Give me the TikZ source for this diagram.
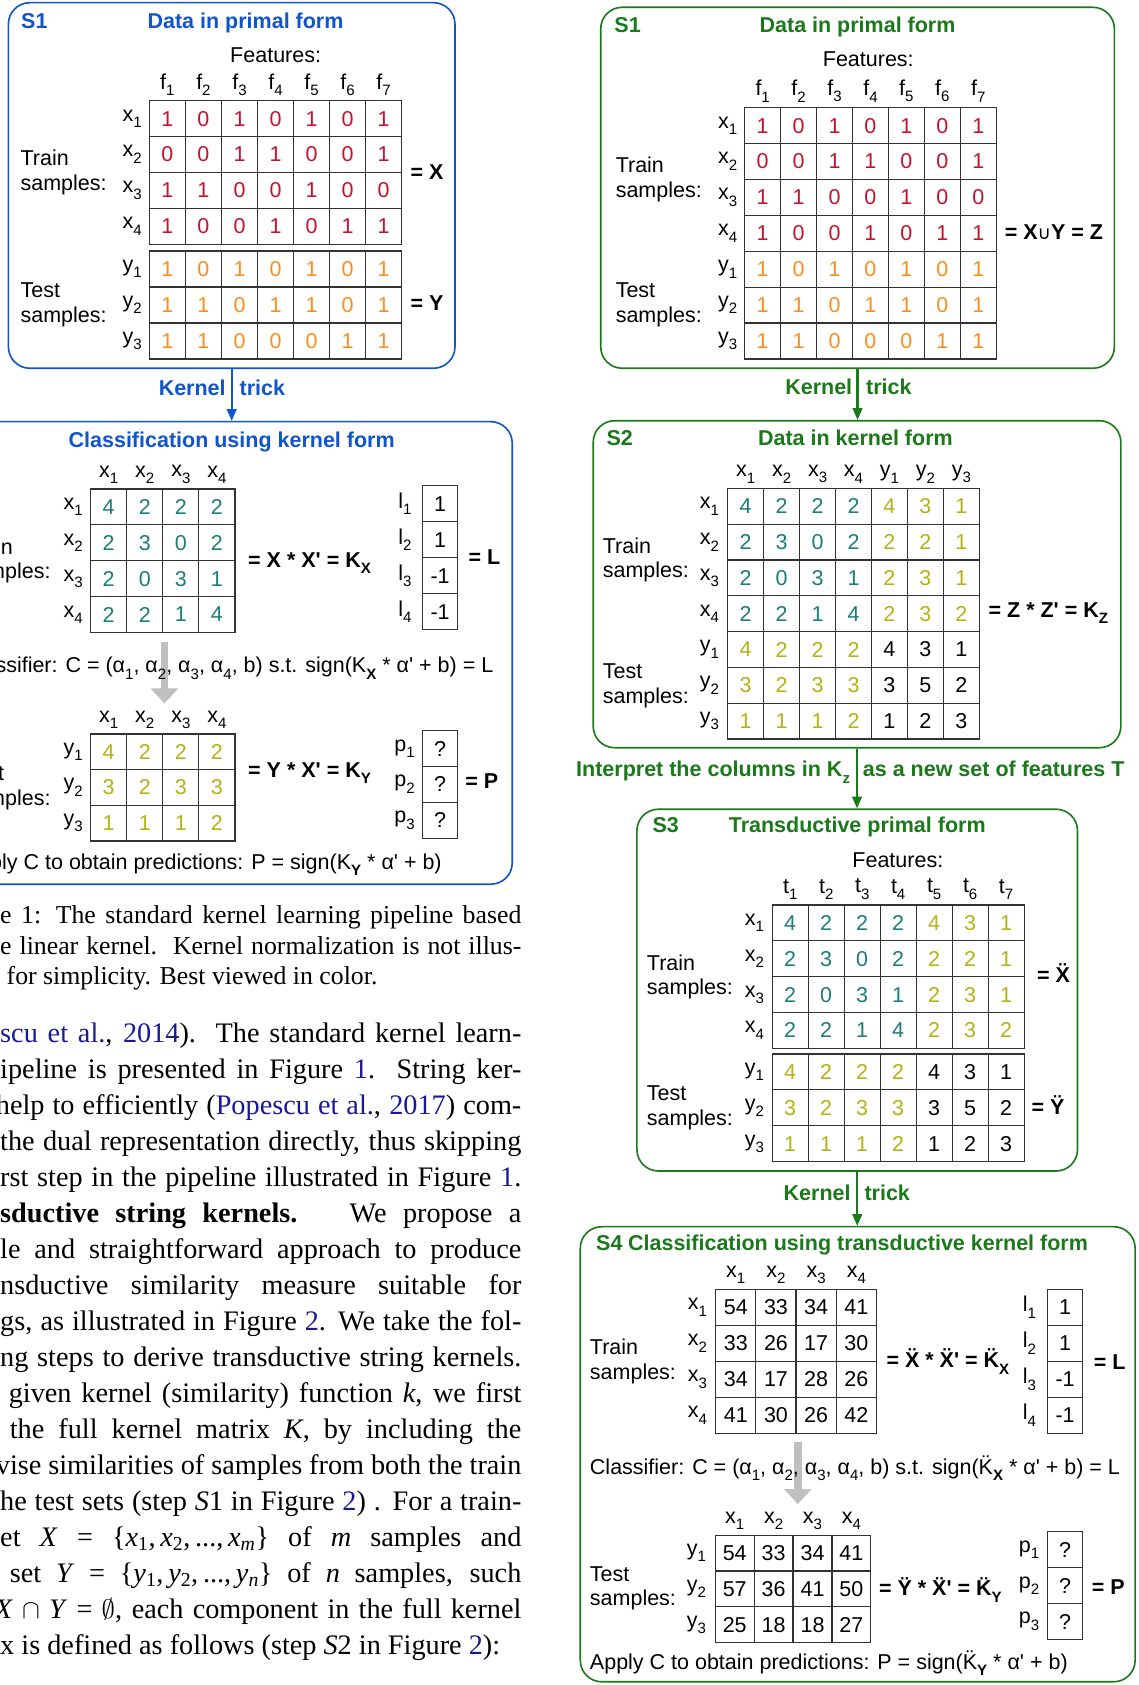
\documentclass[tikz,border=0pt]{standalone}
\usepackage{fontspec}
\usetikzlibrary{arrows.meta}
\newfontfamily\lsans{Liberation Sans}
\newfontfamily\lserif{Liberation Serif}
\newfontfamily\dejavu{DejaVu Sans}
\definecolor{gr}{RGB}{26,122,26}
\definecolor{bl}{RGB}{17,85,204}
\definecolor{cr}{RGB}{200,16,46}
\definecolor{co}{RGB}{255,140,26}
\definecolor{ct}{RGB}{28,125,120}
\definecolor{cy}{RGB}{180,178,20}
\definecolor{ck}{RGB}{0,0,0}
\definecolor{gridc}{RGB}{50,50,50}
\definecolor{lk}{RGB}{25,25,150}
\newcommand\sbs[1]{\raisebox{-0.3em}{\fontsize{14}{14}\selectfont #1}}
\newcommand\ddt[1]{\ooalign{#1\cr\hidewidth\raisebox{0.17em}{¨}\hidewidth\cr}}
\newcommand\lnk[1]{\textcolor{lk}{#1}}
\newcommand\mtab[6]{%
  \foreach \row [count=\ri] in {#6}{%
    \foreach \tcol/\tval [count=\ci] in \row {%
      \node[cell, minimum width=#4pt, minimum height=#5pt, text=\tcol]
        (#1-\ri-\ci) at ({#2+(\ci-0.5)*#4},{#3+(\ri-0.5)*#5}) {\tval};
    }%
  }%
}
\newcommand\rlab[5]{%
  \foreach \labtext [count=\ri] in {#5}{%
    \node[txt, anchor=east] (#1-\ri) at ({#2},{#3+(\ri-0.5)*#4}) {\labtext};}%
}
\newcommand\clab[5]{%
  \foreach \labtext [count=\ci] in {#5}{%
    \node[txt, anchor=south] (#1-\ci) at ({#2+(\ci-0.5)*#3},{#4}) {\labtext};}%
}
\tikzset{
  txt/.style={inner sep=0pt, outer sep=0pt, font=\lsans\fontsize{20}{23}\selectfont},
  btxt/.style={txt, font=\lsans\bfseries\fontsize{20}{23}\selectfont},
  ml/.style={txt, align=left, anchor=west},
  cell/.style={draw=gridc, line width=1.1pt, inner sep=0pt, font=\lsans\fontsize{20}{20}\selectfont},
  gbox/.style={draw=gr, line width=1.5pt, rounded corners=20pt, inner sep=0pt},
  bbox/.style={draw=bl, line width=1.5pt, rounded corners=20pt, inner sep=0pt},
  garrow/.style={draw=gr, line width=2pt, -{Triangle[length=11pt,width=9pt]}},
  barrow/.style={draw=bl, line width=2pt, -{Triangle[length=11pt,width=9pt]}},
  grayarrow/.style={draw=black!25, line width=7pt, -{Triangle[length=14pt,width=25pt]}},
  body/.style={inner sep=0pt, anchor=base west, font=\lserif\fontsize{26.3}{33.5}\selectfont},
  capt/.style={inner sep=0pt, anchor=base west, font=\lserif\fontsize{24}{28.7}\selectfont},
}
\begin{document}
\begin{tikzpicture}[x=1pt,y=-1pt]
\useasboundingbox (0,0) rectangle (1059,1568);
\clip (0,0) rectangle (1059,1568);
\fill[white] (0,0) rectangle (1059,1568);

% ================= LEFT FIGURE (blue) =================
\node[bbox, minimum width=415.6pt, minimum height=340.2pt] (bS1) at (215.6,172.6) {};
\node[bbox, minimum width=506.7pt, minimum height=430.4pt] (bS2) at (223.35,607.6) {};
\draw[barrow] (bS1.south) -- (bS1.south |- bS2.north);
\node[btxt, text=bl, anchor=base east] (bkern) at (210,368) {Kernel};
\node[btxt, text=bl, anchor=base west] (btrick) at (223,368) {trick};

\node[btxt, text=bl, anchor=base] (bs1lab) at (32,26.2) {S1};
\node[btxt, text=bl, anchor=base] (bs1ttl) at (228.5,26.2) {Data in primal form};
\node[txt, anchor=base] (bfeat) at (256.5,58.2) {Features:};
\clab{bfl}{139}{33.54}{89}{f\sbs{1},f\sbs{2},f\sbs{3},f\sbs{4},f\sbs{5},f\sbs{6},f\sbs{7}}
\mtab{bX}{139}{93.7}{33.54}{33.4}{{cr/1,cr/0,cr/1,cr/0,cr/1,cr/0,cr/1},{cr/0,cr/0,cr/1,cr/1,cr/0,cr/0,cr/1},{cr/1,cr/1,cr/0,cr/0,cr/1,cr/0,cr/0},{cr/1,cr/0,cr/0,cr/1,cr/0,cr/1,cr/1}}
\mtab{bY}{139}{233.6}{33.54}{33.47}{{co/1,co/0,co/1,co/0,co/1,co/0,co/1},{co/1,co/1,co/0,co/1,co/1,co/0,co/1},{co/1,co/1,co/0,co/0,co/0,co/1,co/1}}
\rlab{bxr}{132}{93.7}{33.4}{x\sbs{1},x\sbs{2},x\sbs{3},x\sbs{4}}
\rlab{byr}{132}{233.6}{33.47}{y\sbs{1},y\sbs{2},y\sbs{3}}
\node[ml] (btrain1) at (19.2,160.5) {Train\\samples:};
\node[ml] (btest1) at (19.2,283.8) {Test\\samples:};
\node[btxt, anchor=base west] (beqX) at (382,167) {= X};
\node[btxt, anchor=base west] (beqY) at (382,289.3) {= Y};

\node[btxt, text=bl, anchor=base] (bs2ttl) at (215.6,416.6) {Classification using kernel form};
\clab{bkc}{84.4}{33.55}{450}{x\sbs{1},x\sbs{2},x\sbs{3},x\sbs{4}}
\mtab{bKX}{84.4}{455}{33.55}{33.4}{{ct/4,ct/2,ct/2,ct/2},{ct/2,ct/3,ct/0,ct/2},{ct/2,ct/0,ct/3,ct/1},{ct/2,ct/2,ct/1,ct/4}}
\rlab{bkr}{77}{455}{33.4}{x\sbs{1},x\sbs{2},x\sbs{3},x\sbs{4}}
\node[ml] (btrain2) at (-33,522) {Train\\samples:};
\node[btxt, anchor=base west] (beqKX) at (231,528) {= X * X' = K\sbs{X}};
\rlab{blr}{383}{452}{33.5}{l\sbs{1},l\sbs{2},l\sbs{3},l\sbs{4}}
\mtab{bL}{393}{452}{33}{33.5}{{ck/1},{ck/1},{ck/-1},{ck/-1}}
\node[btxt, anchor=base west] (beqL) at (436,525) {= L};
\coordinate (bga1) at (153,597.6);
\coordinate (bga2) at (153,654.6);
\draw[grayarrow] (bga1) -- (bga2);
\node[txt, anchor=base east] (bclass) at (459,626) {Classifier: C = (α\sbs{1}, α\sbs{2}, α\sbs{3}, α\sbs{4}, b) s.t. sign(K\sbs{\bfseries X} * α' + b) = L};
\clab{bkc2}{84.4}{33.55}{678}{x\sbs{1},x\sbs{2},x\sbs{3},x\sbs{4}}
\mtab{bKY}{84.4}{683}{33.55}{33.2}{{cy/4,cy/2,cy/2,cy/2},{cy/3,cy/2,cy/3,cy/3},{cy/1,cy/1,cy/1,cy/2}}
\rlab{bkyr}{77}{683}{33.2}{y\sbs{1},y\sbs{2},y\sbs{3}}
\node[ml] (btest2) at (-33,733) {Test\\samples:};
\node[btxt, anchor=base west] (beqKY) at (231,723.5) {= Y * X' = K\sbs{Y}};
\rlab{bpr}{386}{680}{33.3}{p\sbs{1},p\sbs{2},p\sbs{3}}
\mtab{bP}{393}{680}{33}{33.3}{{ck/?},{ck/?},{ck/?}}
\node[btxt, anchor=base west] (beqP) at (433,734) {= P};
\node[txt, anchor=base east] (bapply) at (411,809) {Apply C to obtain predictions: P = sign(K\sbs{\bfseries Y} * α' + b)};

% ================= CAPTION AND BODY TEXT =================
\node[capt] (cap1) at (0,859.5) {\makebox[485pt][s]{e 1: The standard kernel learning pipeline based}};
\node[capt] (cap2) at (0,888) {\makebox[485pt][s]{e linear kernel.\ \ Kernel normalization is not illus-}};
\node[capt] (cap3) at (6,916.5) {for simplicity. Best viewed in color.};

\node[body] (t0) at (0,970.5) {\makebox[485pt][s]{\lnk{scu et al.}, \lnk{2014}).\ \ The standard kernel learn-}};
\node[body] (t1) at (0,1004) {\makebox[485pt][s]{ipeline is presented in Figure \lnk{1}.\ \ String ker-}};
\node[body] (t2) at (-4,1037.5) {\makebox[489pt][s]{help to efficiently (\lnk{Popescu et al.}, \lnk{2017}) com-}};
\node[body] (t3) at (0,1071) {\makebox[485pt][s]{the dual representation directly, thus skipping}};
\node[body] (t4) at (0,1104.5) {\makebox[485pt][s]{rst step in the pipeline illustrated in Figure \lnk{1}.}};
\node[body] (t5) at (0,1138) {\makebox[485pt][s]{\textbf{sductive string kernels.}\hspace{14pt} We propose a}};
\node[body] (t6) at (0,1171.5) {\makebox[485pt][s]{le and straightforward approach to produce}};
\node[body] (t7) at (0,1205) {\makebox[485pt][s]{nsductive similarity measure suitable for}};
\node[body] (t8) at (0,1238.5) {\makebox[485pt][s]{gs, as illustrated in Figure \lnk{2}. We take the fol-}};
\node[body] (t9) at (0,1272) {\makebox[485pt][s]{ng steps to derive transductive string kernels.}};
\node[body] (t10) at (8,1305.5) {\makebox[477pt][s]{given kernel (similarity) function \textit{k}, we first}};
\node[body] (t11) at (9,1339) {\makebox[476pt][s]{the full kernel matrix \textit{K}, by including the}};
\node[body] (t12) at (-4,1372.5) {\makebox[489pt][s]{vise similarities of samples from both the train}};
\node[body] (t13) at (0,1406) {\makebox[485pt][s]{he test sets (step \textit{S}1 in Figure \lnk{2}) . For a train-}};
\node[body] (t14) at (0,1439.5) {\makebox[485pt][s]{et \textit{X} = \{\textit{x}\textsubscript{1},\,\textit{x}\textsubscript{2},\,...,\,\textit{x}\textsubscript{\textit{m}}\} of \textit{m} samples and}};
\node[body] (t15) at (9,1473) {\makebox[476pt][s]{set \textit{Y} = \{\textit{y}\textsubscript{1},\,\textit{y}\textsubscript{2},\,...,\,\textit{y}\textsubscript{\textit{n}}\} of \textit{n} samples, such}};
\node[body] (t16) at (-5,1506.5) {\makebox[490pt][s]{\textit{X} $\cap$ \textit{Y} = $\emptyset$, each component in the full kernel}};
\node[body] (t17) at (0,1540) {x is defined as follows (step \textit{S}2 in Figure \lnk{2}):};

% ================= RIGHT FIGURE (green) =================
\node[gbox, minimum width=478pt, minimum height=335.9pt] (gS1) at (798,174.75) {};
\node[gbox, minimum width=491pt, minimum height=304.3pt] (gS2) at (797.5,543.65) {};
\node[gbox, minimum width=410pt, minimum height=336.7pt] (gS3) at (797.7,921.35) {};
\node[gbox, minimum width=516.3pt, minimum height=423.5pt] (gS4) at (798.15,1353.25) {};
\draw[garrow] (gS1.south) -- (gS1.south |- gS2.north);
\draw[garrow] (gS2.south) -- (gS2.south |- gS3.north);
\draw[garrow] (gS3.south) -- (gS3.south |- gS4.north);
\node[btxt, text=gr, anchor=base east] (gkern1) at (793,366.8) {Kernel};
\node[btxt, text=gr, anchor=base west] (gtrick1) at (806,366.8) {trick};
\node[btxt, text=gr, anchor=base east] (ginterp) at (791,723) {Interpret the columns in K\sbs{z}};
\node[btxt, text=gr, anchor=base west] (gnewset) at (803,723) {as a new set of features T};
\node[btxt, text=gr, anchor=base east] (gkern2) at (791.5,1117) {Kernel};
\node[btxt, text=gr, anchor=base west] (gtrick2) at (804.5,1117) {trick};

% S1
\node[btxt, text=gr, anchor=base] (gs1lab) at (584,30.3) {S1};
\node[btxt, text=gr, anchor=base] (gs1ttl) at (798,30.3) {Data in primal form};
\node[txt, anchor=base] (gfeat1) at (808,61.9) {Features:};
\clab{gfl}{693}{33.43}{95}{f\sbs{1},f\sbs{2},f\sbs{3},f\sbs{4},f\sbs{5},f\sbs{6},f\sbs{7}}
\mtab{gZ}{693}{100.2}{33.43}{33.4}{{cr/1,cr/0,cr/1,cr/0,cr/1,cr/0,cr/1},{cr/0,cr/0,cr/1,cr/1,cr/0,cr/0,cr/1},{cr/1,cr/1,cr/0,cr/0,cr/1,cr/0,cr/0},{cr/1,cr/0,cr/0,cr/1,cr/0,cr/1,cr/1},{co/1,co/0,co/1,co/0,co/1,co/0,co/1},{co/1,co/1,co/0,co/1,co/1,co/0,co/1},{co/1,co/1,co/0,co/0,co/0,co/1,co/1}}
\rlab{gzr}{686}{100.2}{33.4}{x\sbs{1},x\sbs{2},x\sbs{3},x\sbs{4},y\sbs{1},y\sbs{2},y\sbs{3}}
\node[ml] (gtrain1) at (573,167) {Train\\samples:};
\node[ml] (gtest1) at (573,284) {Test\\samples:};
\node[btxt, anchor=base west] (geqZ) at (935,222.6) {= X{\dejavu\mdseries\fontsize{17}{17}\selectfont ∪}Y = Z};

% S2
\node[btxt, text=gr, anchor=base] (gs2lab) at (576.7,414.3) {S2};
\node[btxt, text=gr, anchor=base] (gs2ttl) at (796,414.3) {Data in kernel form};
\clab{gkc}{677.2}{33.44}{449.5}{x\sbs{1},x\sbs{2},x\sbs{3},x\sbs{4},y\sbs{1},y\sbs{2},y\sbs{3}}
\mtab{gK}{677.2}{454.5}{33.44}{33.31}{{ct/4,ct/2,ct/2,ct/2,cy/4,cy/3,cy/1},{ct/2,ct/3,ct/0,ct/2,cy/2,cy/2,cy/1},{ct/2,ct/0,ct/3,ct/1,cy/2,cy/3,cy/1},{ct/2,ct/2,ct/1,ct/4,cy/2,cy/3,cy/2},{cy/4,cy/2,cy/2,cy/2,ck/4,ck/3,ck/1},{cy/3,cy/2,cy/3,cy/3,ck/3,ck/5,ck/2},{cy/1,cy/1,cy/1,cy/2,ck/1,ck/2,ck/3}}
\rlab{gkr}{669}{454.5}{33.31}{x\sbs{1},x\sbs{2},x\sbs{3},x\sbs{4},y\sbs{1},y\sbs{2},y\sbs{3}}
\node[ml] (gtrain2) at (561,521) {Train\\samples:};
\node[ml] (gtest2) at (561,638) {Test\\samples:};
\node[btxt, anchor=base west] (geqKZ) at (920,574.6) {= Z * Z' = K\sbs{Z}};

% S3
\node[btxt, text=gr, anchor=base] (gs3lab) at (619.5,774.7) {S3};
\node[btxt, text=gr, anchor=base] (gs3ttl) at (797.7,774.7) {Transductive primal form};
\node[txt, anchor=base] (gfeat3) at (835.5,807.3) {Features:};
\clab{gtl}{718.6}{33.49}{837}{t\sbs{1},t\sbs{2},t\sbs{3},t\sbs{4},t\sbs{5},t\sbs{6},t\sbs{7}}
\mtab{gTX}{718.6}{842.2}{33.49}{33.35}{{ct/4,ct/2,ct/2,ct/2,cy/4,cy/3,cy/1},{ct/2,ct/3,ct/0,ct/2,cy/2,cy/2,cy/1},{ct/2,ct/0,ct/3,ct/1,cy/2,cy/3,cy/1},{ct/2,ct/2,ct/1,ct/4,cy/2,cy/3,cy/2}}
\mtab{gTY}{718.6}{980.8}{33.49}{33.4}{{cy/4,cy/2,cy/2,cy/2,ck/4,ck/3,ck/1},{cy/3,cy/2,cy/3,cy/3,ck/3,ck/5,ck/2},{cy/1,cy/1,cy/1,cy/2,ck/1,ck/2,ck/3}}
\rlab{gtxr}{711}{842.2}{33.35}{x\sbs{1},x\sbs{2},x\sbs{3},x\sbs{4}}
\rlab{gtyr}{711}{980.8}{33.4}{y\sbs{1},y\sbs{2},y\sbs{3}}
\node[ml] (gtrain3) at (602,909) {Train\\samples:};
\node[ml] (gtest3) at (602,1031) {Test\\samples:};
\node[btxt, anchor=base west] (geqXd) at (965,914.3) {= \ddt{X}};
\node[btxt, anchor=base west] (geqYd) at (960,1037) {= \ddt{Y}};

% S4
\node[btxt, text=gr, anchor=base] (gs4lab) at (567,1164) {S4};
\node[btxt, text=gr, anchor=base west] (gs4ttl) at (584.5,1164) {Classification using transductive kernel form};
\clab{gxc}{666}{37.4}{1194.8}{x\sbs{1},x\sbs{2},x\sbs{3},x\sbs{4}}
\mtab{gKX}{666}{1199.8}{37.4}{33.5}{{ck/54,ck/33,ck/34,ck/41},{ck/33,ck/26,ck/17,ck/30},{ck/34,ck/17,ck/28,ck/26},{ck/41,ck/30,ck/26,ck/42}}
\rlab{gxr}{658}{1199.8}{33.5}{x\sbs{1},x\sbs{2},x\sbs{3},x\sbs{4}}
\node[ml] (gtrain4) at (549,1267) {Train\\samples:};
\node[btxt, anchor=base west] (geqKXd) at (825,1272.6) {= \ddt{X} * \ddt{X}' = \ddt{K}\sbs{X}};
\rlab{glr}{964}{1199.8}{33.5}{l\sbs{1},l\sbs{2},l\sbs{3},l\sbs{4}}
\mtab{gL}{974.6}{1199.8}{33}{33.5}{{ck/1},{ck/1},{ck/-1},{ck/-1}}
\node[btxt, anchor=base west] (geqL) at (1018,1274) {= L};
\coordinate (gga1) at (742.4,1341.6);
\coordinate (gga2) at (742.4,1399.6);
\draw[grayarrow] (gga1) -- (gga2);
\node[txt, anchor=base west] (gclass) at (549,1372) {Classifier: C = (α\sbs{1}, α\sbs{2}, α\sbs{3}, α\sbs{4}, b) s.t. sign(\ddt{K}\sbs{\bfseries X} * α' + b) = L};
\clab{gxc2}{665.6}{36.2}{1423.5}{x\sbs{1},x\sbs{2},x\sbs{3},x\sbs{4}}
\mtab{gKY}{665.6}{1428.5}{36.2}{33.4}{{ck/54,ck/33,ck/34,ck/41},{ck/57,ck/36,ck/41,ck/50},{ck/25,ck/18,ck/18,ck/27}}
\rlab{gyr}{657}{1428.5}{33.4}{y\sbs{1},y\sbs{2},y\sbs{3}}
\node[ml] (gtest4) at (549,1478) {Test\\samples:};
\node[btxt, anchor=base west] (geqKYd) at (818,1485) {= \ddt{Y} * \ddt{X}' = \ddt{K}\sbs{Y}};
\rlab{gpr}{967}{1425.4}{33.4}{p\sbs{1},p\sbs{2},p\sbs{3}}
\mtab{gP}{974.6}{1425.4}{33}{33.4}{{ck/?},{ck/?},{ck/?}}
\node[btxt, anchor=base west] (geqP) at (1016,1483.5) {= P};
\node[txt, anchor=base west] (gapply) at (549,1553.4) {Apply C to obtain predictions: P = sign(\ddt{K}\sbs{\bfseries Y} * α' + b)};
\end{tikzpicture}
\end{document}
